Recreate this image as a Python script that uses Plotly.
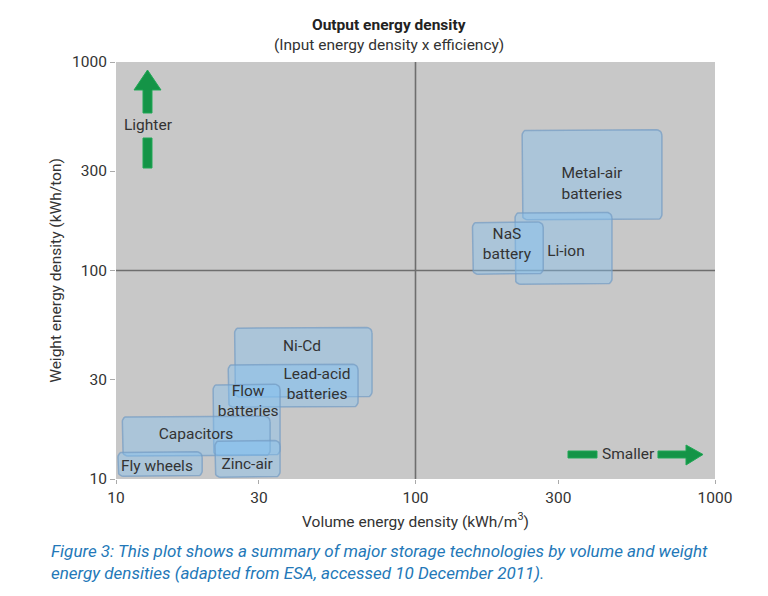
import math
import plotly.graph_objects as go

# ---- data ----
technologies = ["Metal-air batteries", "Li-ion", "NaS battery", "Ni-Cd", "Lead-acid batteries",
                "Flow batteries", "Capacitors", "Fly wheels", "Zinc-air"]
vol_min = [227, 215, 155, 24.9, 23.7, 21.1, 10.5, 10.15, 21.4]
vol_max = [665, 453, 267, 71.6, 64.3, 35.3, 32.7, 19.4, 35.3]
wt_min = [175, 86, 96, 24.7, 22.1, 13.0, 12.9, 10.3, 10.2]
wt_max = [473, 190, 171, 53.3, 35.5, 28.5, 20.0, 13.5, 15.3]
label_text = ["Metal-air<br>batteries", "Li-ion", "NaS<br>battery", "Ni-Cd", "Lead-acid<br>batteries",
              "Flow<br>batteries", "Capacitors", "Fly wheels", "Zinc-air"]
label_x = [388, 318, 202, 41.8, 46.9, 27.6, 18.5, 13.7, 27.4]
label_y = [258, 122, 132, 42.8, 28.2, 23.4, 16.3, 11.4, 11.7]
ticks = [10, 30, 100, 300, 1000]
tick_labels = ["10", "30", "100", "300", "1000"]
ref_value = 100

TXT = "#333333"
FONT = "Roboto"
FS = 15.5


def rounded_box(x0, x1, y0, y1, rx=0.018, ry=0.026, n=6):
    lx0, lx1, ly0, ly1 = map(math.log10, (x0, x1, y0, y1))
    corners = [(lx1 - rx, ly1 - ry, 0), (lx0 + rx, ly1 - ry, 90),
               (lx0 + rx, ly0 + ry, 180), (lx1 - rx, ly0 + ry, 270)]
    xs, ys = [], []
    for cx, cy, a0 in corners:
        for k in range(n + 1):
            a = math.radians(a0 + 90 * k / n)
            xs.append(10 ** (cx + rx * math.cos(a)))
            ys.append(10 ** (cy + ry * math.sin(a)))
    xs.append(xs[0]); ys.append(ys[0])
    return xs, ys


fig = go.Figure()

# reference lines at 100
fig.add_trace(go.Scatter(x=[ticks[0], ticks[-1]], y=[ref_value, ref_value], mode="lines",
                         line=dict(color="#6e6e6e", width=1.6), hoverinfo="skip", showlegend=False))
fig.add_trace(go.Scatter(x=[ref_value, ref_value], y=[ticks[0], ticks[-1]], mode="lines",
                         line=dict(color="#6e6e6e", width=1.6), hoverinfo="skip", showlegend=False))

for i, name in enumerate(technologies):
    xs, ys = rounded_box(vol_min[i], vol_max[i], wt_min[i], wt_max[i])
    fig.add_trace(go.Scatter(x=xs, y=ys, mode="lines", fill="toself",
                             fillcolor="rgba(130,192,240,0.42)",
                             line=dict(color="rgba(115,155,195,0.7)", width=1.5),
                             name=name, hoverinfo="skip", showlegend=False))

fig.add_trace(go.Scatter(x=label_x, y=label_y, mode="text", text=label_text,
                         textfont=dict(family=FONT, size=FS, color=TXT),
                         hoverinfo="skip", showlegend=False))

# arrows (paper coords)
L, R, T, B = 116, 715, 62, 479
W, H = R - L, B - T


def px(x):
    return (x - L) / W


def py(y):
    return (B - y) / H


def poly(points):
    d = "M " + " L ".join(f"{px(x):.4f},{py(y):.4f}" for x, y in points) + " Z"
    return dict(type="path", xref="paper", yref="paper", path=d,
                fillcolor="#149447", line=dict(color="#1fa855", width=1), layer="above")


green_shapes = [
    poly([(143, 113), (152, 113), (152, 90), (161, 90), (147.5, 70), (134, 90), (143, 90)]),
    poly([(143, 138), (152, 138), (152, 168), (143, 168)]),
    poly([(568, 451), (597, 451), (597, 458), (568, 458)]),
    poly([(658, 451), (686, 451), (686, 445), (703, 454.5), (686, 465), (686, 458), (658, 458)]),
]


def note(text, x, y, **font):
    f = dict(family=FONT, size=FS, color=TXT)
    f.update(font)
    return dict(text=text, x=px(x), y=py(y), xref="paper", yref="paper",
                xanchor="center", yanchor="middle", showarrow=False, font=f)


annotations = [
    note("Output energy density", 389, 25, color="#222222", weight="bold"),
    note("(Input energy density x efficiency)", 389, 45),
    note("Lighter", 148, 125),
    note("Smaller", 628, 454),
    dict(text="Figure 3: This plot shows a summary of major storage technologies by volume and weight<br>"
              "energy densities (adapted from ESA, accessed 10 December 2011).",
         x=px(49), y=py(562), xref="paper", yref="paper", xanchor="left", yanchor="middle",
         align="left", showarrow=False,
         font=dict(family=FONT, size=17, color="#2378b8", style="italic")),
]

fig.update_layout(
    width=768, height=596,
    margin=dict(l=L, r=768 - R, t=T, b=596 - B),
    paper_bgcolor="white", plot_bgcolor="#c8c8c8",
    font=dict(family=FONT, size=FS, color=TXT),
    shapes=green_shapes, annotations=annotations,
    xaxis=dict(type="log", range=[1, 3], tickvals=ticks, ticktext=tick_labels,
               showgrid=False, zeroline=False, showline=False, ticks="outside",
               ticklen=4, tickcolor="#aaaaaa", tickfont=dict(size=FS, color=TXT),
               title=dict(text="Volume energy density (kWh/m<sup>3</sup>)", standoff=10,
                          font=dict(size=FS, color=TXT))),
    yaxis=dict(type="log", range=[1, 3], tickvals=ticks, ticktext=tick_labels,
               showgrid=False, zeroline=False, showline=False, ticks="outside",
               ticklen=5, tickcolor="#aaaaaa", tickfont=dict(size=FS, color=TXT),
               title=dict(text="Weight energy density (kWh/ton)", standoff=6,
                          font=dict(size=FS, color=TXT))),
)

fig.write_html("out.html")
